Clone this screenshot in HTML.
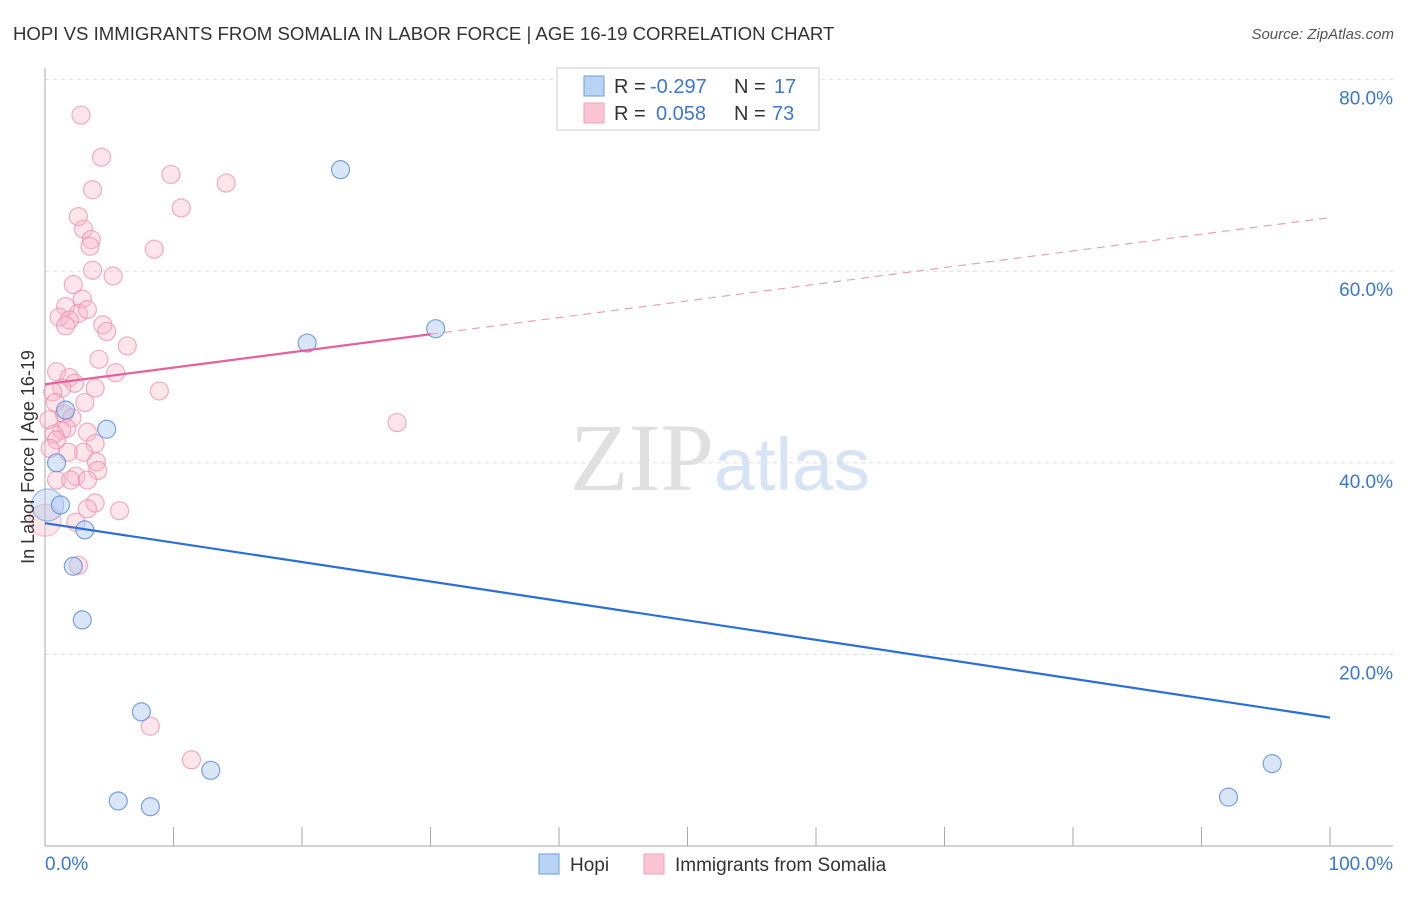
<!DOCTYPE html>
<html><head><meta charset="utf-8"><style>
body{margin:0;background:#fff;font-family:"Liberation Sans",sans-serif}
</style></head><body>
<svg id="c" width="1406" height="892" viewBox="0 0 1406 892" xmlns="http://www.w3.org/2000/svg" font-family="Liberation Sans, sans-serif">
<text x="13" y="40" font-size="18.6" fill="#333">HOPI VS IMMIGRANTS FROM SOMALIA IN LABOR FORCE | AGE 16-19 CORRELATION CHART</text>
<text x="1394" y="39" font-size="15" fill="#555" text-anchor="end" font-style="italic">Source: ZipAtlas.com</text>
<text x="720" y="490" font-size="96" text-anchor="middle"><tspan fill="#e0e0e0" font-family="Liberation Serif, serif">ZIP</tspan><tspan fill="#d6e4f5" font-size="74">atlas</tspan></text>
<g id="grid"></g>
<g id="axes"></g>
<g id="pts"></g>
<g id="trend"></g>
<text transform="translate(34,457) rotate(-90)" font-size="18" fill="#333" text-anchor="middle">In Labor Force | Age 16-19</text>
<g font-size="20">
<rect x="557" y="68" width="262" height="62" fill="#fff" stroke="#ccc"/>
<rect x="584" y="76" width="20" height="20" fill="#b9d3f5" stroke="#6a9ee0"/>
<rect x="584" y="103" width="20" height="20" fill="#fbc5d4" stroke="#f0a0b8"/>
<text x="614" y="93" fill="#333">R =</text><text x="650" y="93" fill="#3a78d0">-0.297</text>
<text x="734" y="93" fill="#333">N =</text><text x="774" y="93" fill="#3a78d0">17</text>
<text x="614" y="120" fill="#333">R =</text><text x="656" y="120" fill="#3a78d0">0.058</text>
<text x="734" y="120" fill="#333">N =</text><text x="772" y="120" fill="#3a78d0">73</text>
</g>
<g>
<rect x="539" y="854" width="20" height="20" fill="#b9d3f5" stroke="#6a9ee0"/>
<text x="570" y="871" font-size="19" fill="#333">Hopi</text>
<rect x="644" y="854" width="20" height="20" fill="#fbc5d4" stroke="#f0a0b8"/>
<text x="675" y="871" font-size="19" fill="#333">Immigrants from Somalia</text>
</g>
</svg>
<script>
const yTicks=[20,40,60,80];
const yTickLabels=["20.0%","40.0%","60.0%","80.0%"];
const hopiX=[23.0,30.4,20.4,4.8,1.6,0.9,1.2,3.1,2.2,2.9,7.5,12.9,5.7,8.2,95.5,92.1];
const hopiY=[70.6,54.0,52.5,43.5,45.5,40.0,35.6,33.0,29.2,23.6,14.0,7.9,4.7,4.1,8.6,5.1];
const somX=[2.8,4.4,9.8,14.1,3.7,10.6,2.6,3.0,3.6,3.5,8.5,3.7,5.3,2.2,2.9,1.6,1.1,2.6,3.3,1.9,1.6,4.5,4.8,6.4,4.2,5.5,0.9,1.9,2.3,1.3,3.9,8.9,0.6,3.1,0.8,1.5,2.1,0.3,27.4,1.3,3.3,1.7,0.7,0.9,3.9,3.0,1.8,4.0,4.1,0.4,2.4,0.9,2.0,3.3,3.9,3.3,5.8,2.4,2.6,8.2,11.4];
const somY=[76.3,71.9,70.1,69.2,68.5,66.6,65.7,64.4,63.3,62.6,62.3,60.1,59.5,58.6,57.1,56.3,55.2,55.6,56.0,54.9,54.3,54.4,53.7,52.2,50.8,49.4,49.5,48.9,48.3,47.8,47.8,47.5,47.4,46.3,46.3,45.1,44.7,44.5,44.2,43.4,43.2,43.6,43.0,42.4,42.0,41.1,41.1,40.1,39.2,41.5,38.6,38.2,38.2,38.2,35.8,35.2,35.0,33.8,29.3,12.5,9.0];
const bigHopi=[0.2,35.6], bigSom=[0,34.0];
const hopiTrend=[33.7,13.4], somTrend=[48.2,65.6];
const sx=v=>45+v*12.85, sy=v=>846-v*9.58;
const NS="http://www.w3.org/2000/svg";
function mk(p,t,a){const e=document.createElementNS(NS,t);for(const k in a)e.setAttribute(k,a[k]);document.getElementById(p).appendChild(e);return e;}
yTicks.forEach((t,i)=>{
 const l=mk('grid','line',{x1:45,x2:1393,y1:sy(t),y2:sy(t),stroke:'#ddd','stroke-dasharray':'4,4'});
 
 
 const tx=mk('grid','text',{x:1393,y:sy(t)+25,'font-size':19,fill:'#3a78d0','text-anchor':'end'});
 tx.textContent=yTickLabels[i];
 
 
});
mk('axes','line',{x1:45,x2:45,y1:68,y2:846,stroke:'#aaa'});
mk('axes','line',{x1:45,x2:1393,y1:846,y2:846,stroke:'#aaa'});
for(let i=0;i<=10;i++){const t=mk('axes','line',{x1:sx(i*10),x2:sx(i*10),y1:827,y2:846,stroke:'#aaa'});}
let t0=mk('axes','text',{x:45,y:870,'font-size':19,fill:'#3a78d0'});t0.textContent='0.0%';


let t1=mk('axes','text',{x:1393,y:870,'font-size':19,fill:'#3a78d0','text-anchor':'end'});t1.textContent='100.0%';


function dot(x,y,r,f,s,n){const c=mk('pts','circle',{cx:sx(x),cy:sy(y),r:r,fill:f,stroke:s,'stroke-width':1.2});
 
 }
dot(bigSom[0],bigSom[1],16,'rgba(248,180,200,0.35)','rgba(240,150,180,0.6)','somalia-point');
somX.forEach((x,i)=>dot(x,somY[i],9,'rgba(248,180,200,0.35)','rgba(236,140,170,0.7)','somalia-point'));
dot(bigHopi[0],bigHopi[1],16,'rgba(170,200,240,0.4)','rgba(100,150,220,0.6)','hopi-point');
hopiX.forEach((x,i)=>dot(x,hopiY[i],9,'rgba(170,200,240,0.45)','rgba(90,140,220,0.8)','hopi-point'));
const lerp=(a,x)=>a[0]+(a[1]-a[0])*x/100;
let hl=mk('trend','line',{x1:sx(0),y1:sy(hopiTrend[0]),x2:sx(100),y2:sy(hopiTrend[1]),stroke:'#2a6fd6','stroke-width':2.2});


let sl=mk('trend','line',{x1:sx(0),y1:sy(somTrend[0]),x2:sx(30),y2:sy(lerp(somTrend,30)),stroke:'#e8609a','stroke-width':2.2});


let sd=mk('trend','line',{x1:sx(30),y1:sy(lerp(somTrend,30)),x2:sx(100),y2:sy(somTrend[1]),stroke:'#e8a0bc','stroke-width':1.2,'stroke-dasharray':'8,6'});


</script>
</body></html>
